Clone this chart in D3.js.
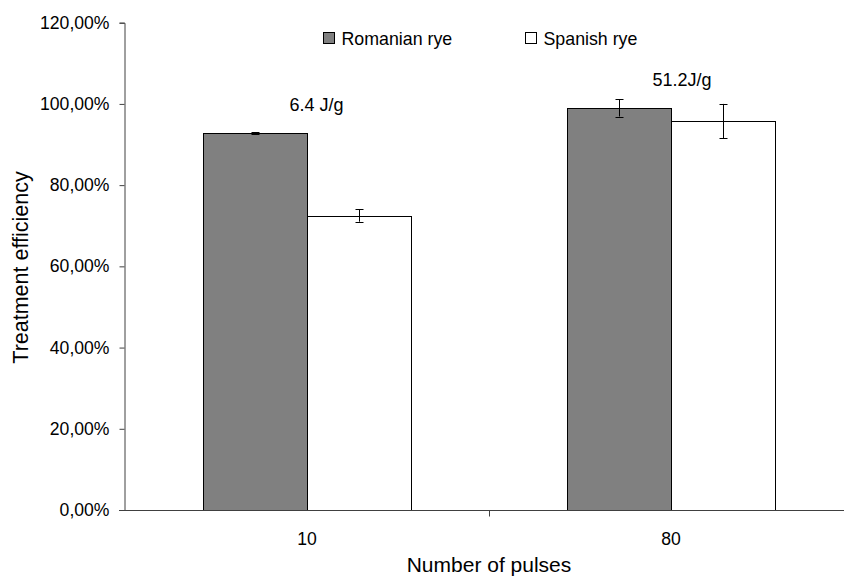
<!DOCTYPE html>
<html>
<head>
<meta charset="utf-8">
<script src="https://cdn.jsdelivr.net/npm/d3@7"></script>
<style>
  body { margin: 0; background: #fff; }
  svg { display: block; font-family: "Liberation Sans", Arial, sans-serif; }
</style>
</head>
<body>
<svg id="chart" width="844" height="578"></svg>
<script>
// Treatment efficiency by number of pulses
const categories = ["10", "80"];
const seriesNames = ["Romanian rye", "Spanish rye"];
const romanianValues = [92.8, 99.0];
const spanishValues = [72.5, 95.8];
const romanianErrors = [0.2, 2.1];
const spanishErrors = [1.5, 4.2];
const energyLabels = ["6.4 J/g", "51.2J/g"];
const yTicks = [0, 20, 40, 60, 80, 100, 120];
const seriesFills = ["#808080", "#ffffff"];

const svg = d3.select("#chart");
const x0 = 125, x1 = 853, yTop = 22.7, yBottom = 510;
const axisColor = "#404040";

const x = d3.scaleBand().domain(categories).range([x0, x1]);
const barGap = 78; // empty space on each side of a bar pair inside a category
const xs = d3.scaleBand().domain(seriesNames).range([barGap, x.bandwidth() - barGap]);
const y = d3.scaleLinear().domain([0, 120]).range([yBottom, yTop]);

const rows = categories.map((c, i) => ({
  cat: c,
  bars: [
    { s: seriesNames[0], v: romanianValues[i], e: romanianErrors[i], fill: seriesFills[0] },
    { s: seriesNames[1], v: spanishValues[i], e: spanishErrors[i], fill: seriesFills[1] }
  ]
}));

// bars
const groups = svg.append("g").selectAll("g").data(rows).join("g")
  .attr("transform", d => `translate(${Math.round(x(d.cat))},0)`);

groups.selectAll("rect").data(d => d.bars).join("rect")
  .attr("x", d => Math.round(xs(d.s)) + 0.5)
  .attr("width", Math.round(xs.bandwidth()))
  .attr("y", d => Math.round(y(d.v)) + 0.5)
  .attr("height", d => Math.round(y(0)) - Math.round(y(d.v)))
  .attr("fill", d => d.fill)
  .attr("stroke", "#000")
  .attr("stroke-width", 1);

// error bars
const cx = d => Math.round(xs(d.s) + xs.bandwidth() / 2) + 0.5;
const eb = groups.selectAll("g.err").data(d => d.bars).join("g").attr("class", "err")
  .attr("stroke", "#000").attr("stroke-width", 1);
eb.append("line")
  .attr("x1", cx).attr("x2", cx)
  .attr("y1", d => y(d.v + d.e)).attr("y2", d => y(d.v - d.e));
[1, -1].forEach(sign => {
  eb.append("line")
    .attr("x1", d => cx(d) - 4).attr("x2", d => cx(d) + 4)
    .attr("y1", d => Math.round(y(d.v + sign * d.e)) + 0.5)
    .attr("y2", d => Math.round(y(d.v + sign * d.e)) + 0.5);
});

// energy annotations
const annotX = [316.5, 682];
const annotY = [111, 86];
svg.append("g").selectAll("text").data(energyLabels).join("text")
  .attr("x", (d, i) => annotX[i]).attr("y", (d, i) => annotY[i])
  .attr("text-anchor", "middle").attr("font-size", 18).text(d => d);

// y axis
const yAxis = d3.axisLeft(y).tickValues(yTicks).tickSize(5).tickPadding(10)
  .tickFormat(d => d3.format(".2f")(d).replace(".", ",") + "%");
const gy = svg.append("g").attr("transform", `translate(${x0 - 0.5},0)`).call(yAxis);
gy.select(".domain").attr("stroke", axisColor);
gy.selectAll(".tick line").attr("stroke", axisColor);
gy.selectAll("text").attr("font-size", 17.6).attr("fill", "#000")
  .attr("font-family", "Liberation Sans, Arial, sans-serif");

// x axis
const gx = svg.append("g").attr("transform", `translate(0,${yBottom + 0.5})`);
gx.append("line").attr("x1", x0 - 6).attr("x2", x1).attr("stroke", axisColor);
gx.selectAll("line.sep").data(categories.slice(1)).join("line").attr("class", "sep")
  .attr("x1", d => Math.round(x(d)) + 0.5).attr("x2", d => Math.round(x(d)) + 0.5)
  .attr("y1", 0).attr("y2", 6).attr("stroke", axisColor);
gx.selectAll("text").data(categories).join("text")
  .attr("x", d => x(d) + x.bandwidth() / 2).attr("y", 34)
  .attr("text-anchor", "middle").attr("font-size", 17.6).text(d => d);

// axis titles
svg.append("text").attr("x", 489).attr("y", 572).attr("text-anchor", "middle")
  .attr("font-size", 21).text("Number of pulses");
svg.append("text").attr("transform", "translate(27.5,267.5) rotate(-90)")
  .attr("text-anchor", "middle").attr("font-size", 21.5).text("Treatment efficiency");

// legend
const legendX = [323.5, 525.5];
const lg = svg.append("g").selectAll("g").data(seriesNames).join("g")
  .attr("transform", (d, i) => `translate(${legendX[i]},32.5)`);
lg.append("rect").attr("width", 11).attr("height", 11)
  .attr("fill", (d, i) => seriesFills[i]).attr("stroke", "#000").attr("stroke-width", 1);
lg.append("text").attr("x", 18).attr("y", 12).attr("font-size", 17.8).text(d => d);
</script>
</body>
</html>
